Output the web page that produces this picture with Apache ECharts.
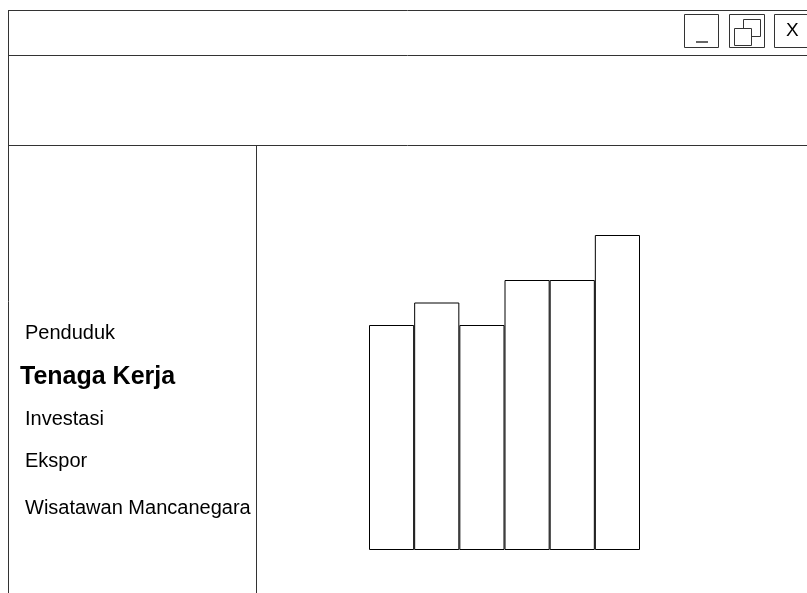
<!DOCTYPE html>
<html>
<head>
<meta charset="utf-8">
<title>Tenaga Kerja</title>
<script src="https://cdn.jsdelivr.net/npm/echarts@6/dist/echarts.min.js"></script>
<style>
  html, body { margin: 0; padding: 0; background: #fff; }
  #chart { width: 807px; height: 593px; }
</style>
</head>
<body>
<div id="chart"></div>
<script>
// data
const years = ['1', '2', '3', '4', '5', '6'];
const workers = [5, 5.5, 5, 6, 6, 7];
const menuItems = ['Penduduk', 'Tenaga Kerja', 'Investasi', 'Ekspor', 'Wisatawan Mancanegara'];
const activeMenu = 'Tenaga Kerja';

const chart = echarts.init(document.getElementById('chart'));
const font = '"Liberation Sans", Arial, sans-serif';
const lineColor = '#333';

// window frame
const frame = [
  { type: 'line', shape: { x1: 8, y1: 10.5, x2: 807, y2: 10.5 } },
  { type: 'line', shape: { x1: 8.5, y1: 10, x2: 8.5, y2: 593 } },
  { type: 'line', shape: { x1: 8, y1: 55.5, x2: 807, y2: 55.5 } },
  { type: 'line', shape: { x1: 8, y1: 145.5, x2: 807, y2: 145.5 } },
  { type: 'line', shape: { x1: 256.5, y1: 145, x2: 256.5, y2: 593 } },
  // minimize
  { type: 'rect', shape: { x: 684.5, y: 14.5, width: 34, height: 33 } },
  { type: 'line', shape: { x1: 696, y1: 42, x2: 708, y2: 42 }, style: { lineWidth: 1.5 } },
  // restore
  { type: 'rect', shape: { x: 729.5, y: 14.5, width: 35, height: 33 } },
  { type: 'rect', shape: { x: 743.5, y: 19.5, width: 17, height: 17 } },
  { type: 'rect', shape: { x: 734.5, y: 28.5, width: 17, height: 17 }, style: { fill: '#fff' } },
  // close
  { type: 'rect', shape: { x: 774.5, y: 14.5, width: 40, height: 33 } }
].map(function (el) {
  el.style = Object.assign({ stroke: lineColor, lineWidth: 1, fill: 'none' }, el.style || {});
  el.silent = true;
  return el;
});

frame.push({
  type: 'text', x: 786, y: 31, silent: true,
  style: { text: 'X', font: '19px ' + font, fill: '#000', textVerticalAlign: 'middle' }
});

// sidebar menu
const menuY = [333, 377, 419, 461, 508];
menuItems.forEach(function (name, i) {
  const active = name === activeMenu;
  frame.push({
    type: 'text', x: active ? 20 : 25, y: menuY[i], silent: true,
    style: {
      text: name,
      font: (active ? 'bold 25px ' : '20px ') + font,
      fill: '#000',
      textVerticalAlign: 'middle'
    }
  });
});

const option = {
  backgroundColor: '#fff',
  animation: false,
  graphic: frame,
  grid: { left: 369, right: 167, top: 235, bottom: 43 },
  xAxis: {
    type: 'category',
    data: years,
    show: false
  },
  yAxis: {
    type: 'value',
    min: 0,
    max: 7,
    show: false
  },
  series: [{
    type: 'bar',
    data: workers,
    barCategoryGap: 0,
    itemStyle: { color: '#fff', borderColor: '#000', borderWidth: 1 }
  }]
};

chart.setOption(option);
</script>
</body>
</html>
